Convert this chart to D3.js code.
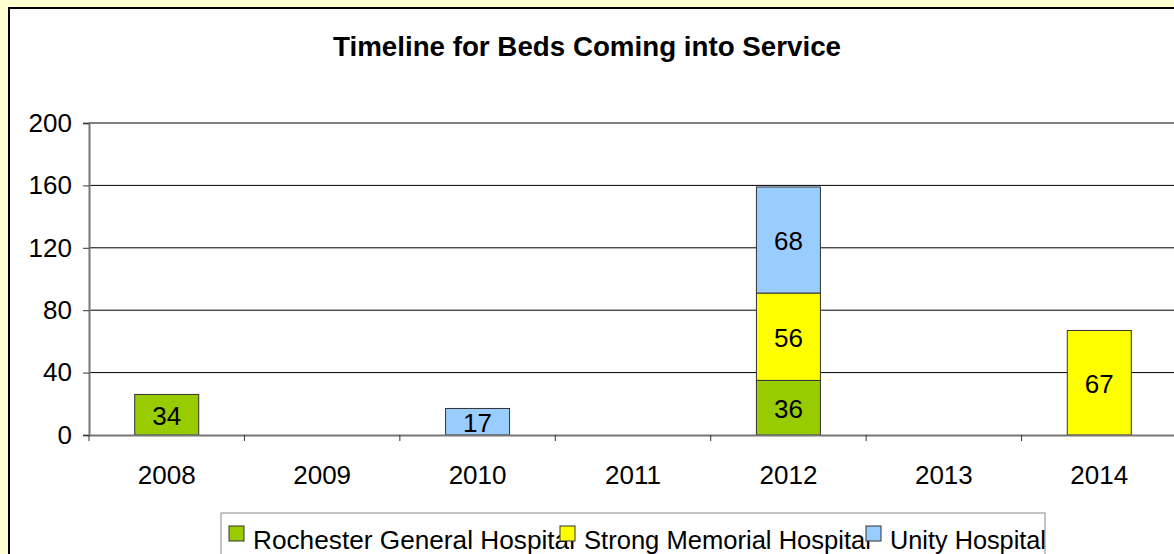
<!DOCTYPE html>
<html>
<head>
    <title>Timeline for Beds Coming into Service</title>
    <style>
        body { margin: 0; background: #ffffd0; overflow: hidden; }
        text { font-family: Arial, "Liberation Sans", sans-serif; }
    </style>
</head>
<body>
    <svg id="chart" width="1174" height="554"></svg>

    <script src="https://d3js.org/d3.v7.min.js"></script>
    <script>
        // categories and series
        const years = ['2008', '2009', '2010', '2011', '2012', '2013', '2014'];
        const hospitals = ['Rochester General Hospital', 'Strong Memorial Hospital', 'Unity Hospital'];
        const colors = ['#99cc00', '#ffff00', '#99ccff'];

        // bar heights as drawn
        const rochester = [26, 0, 0, 0, 35, 0, 0];
        const strong = [0, 0, 0, 0, 56, 0, 67];
        const unity = [0, 0, 17, 0, 68, 0, 0];

        // data labels as printed on the bars
        const rochesterLabels = ['34', '', '', '', '36', '', ''];
        const strongLabels = ['', '', '', '', '56', '', '67'];
        const unityLabels = ['', '', '17', '', '68', '', ''];

        const yTicks = [0, 40, 80, 120, 160, 200];

        const seriesValues = [rochester, strong, unity];
        const seriesLabels = [rochesterLabels, strongLabels, unityLabels];

        const svg = d3.select('#chart');

        // chart frame
        svg.append('rect')
            .attr('x', 9).attr('y', 8)
            .attr('width', 1200).attr('height', 600)
            .attr('fill', '#fff')
            .attr('stroke', '#000')
            .attr('stroke-width', 2);

        svg.append('text')
            .attr('x', 587).attr('y', 56)
            .attr('text-anchor', 'middle')
            .attr('font-size', 27)
            .attr('font-weight', 'bold')
            .attr('textLength', 508)
            .attr('lengthAdjust', 'spacingAndGlyphs')
            .text('Timeline for Beds Coming into Service');

        const x = d3.scaleBand()
            .domain(years)
            .range([89, 1177]);

        const y = d3.scaleLinear()
            .domain([0, 200])
            .range([435, 123]);

        // gridlines
        svg.append('g')
            .selectAll('line')
            .data(yTicks.filter(d => d > 0))
            .enter().append('line')
            .attr('x1', 89).attr('x2', 1177)
            .attr('y1', d => y(d)).attr('y2', d => y(d))
            .attr('stroke', '#000')
            .attr('stroke-width', 1);

        // stacked bars
        const stackData = years.map((yr, i) => {
            const row = { year: yr };
            hospitals.forEach((h, k) => { row[h] = seriesValues[k][i]; });
            return row;
        });
        const stacked = d3.stack().keys(hospitals)(stackData);
        const barW = 64;

        stacked.forEach((layer, k) => {
            const g = svg.append('g');
            layer.forEach((seg, i) => {
                if (seg[1] - seg[0] <= 0) return;
                const cx = x(years[i]) + x.bandwidth() / 2;
                g.append('rect')
                    .attr('x', cx - barW / 2)
                    .attr('y', y(seg[1]))
                    .attr('width', barW)
                    .attr('height', y(seg[0]) - y(seg[1]))
                    .attr('fill', colors[k])
                    .attr('stroke', '#333')
                    .attr('stroke-width', 1);
                g.append('text')
                    .attr('x', cx)
                    .attr('y', (y(seg[0]) + y(seg[1])) / 2 + 10)
                    .attr('text-anchor', 'middle')
                    .attr('font-size', 26)
                    .text(seriesLabels[k][i]);
            });
        });

        // axes
        const yAxis = svg.append('g')
            .attr('transform', 'translate(89,0)')
            .call(d3.axisLeft(y).tickValues(yTicks).tickSize(6).tickPadding(11));
        yAxis.select('.domain').attr('stroke', '#777').attr('stroke-width', 2);
        yAxis.selectAll('.tick line').attr('stroke', '#333');
        yAxis.selectAll('.tick text')
            .attr('font-size', 26)
            .attr('font-family', 'Arial, "Liberation Sans", sans-serif')
            .attr('fill', '#000');

        const xAxis = svg.append('g')
            .attr('transform', 'translate(0,435)')
            .call(d3.axisBottom(x).tickSize(0).tickPadding(31));
        xAxis.select('.domain').attr('stroke', '#777').attr('stroke-width', 2);
        xAxis.selectAll('.tick text')
            .attr('font-size', 26)
            .attr('font-family', 'Arial, "Liberation Sans", sans-serif')
            .attr('fill', '#000');

        // category boundary ticks
        svg.append('g')
            .selectAll('line')
            .data(years.concat(['end']))
            .enter().append('line')
            .attr('x1', (d, i) => 89 + i * x.step())
            .attr('x2', (d, i) => 89 + i * x.step())
            .attr('y1', 435).attr('y2', 441)
            .attr('stroke', '#333');

        // legend
        svg.append('rect')
            .attr('x', 221).attr('y', 513)
            .attr('width', 824).attr('height', 50)
            .attr('fill', '#fff')
            .attr('stroke', '#888')
            .attr('stroke-width', 1);

        const legendX = [229, 560, 866];
        const legendW = [322, 287, 156];
        hospitals.forEach((h, k) => {
            svg.append('rect')
                .attr('x', legendX[k]).attr('y', 526)
                .attr('width', 15).attr('height', 15)
                .attr('fill', colors[k])
                .attr('stroke', '#333');
            svg.append('text')
                .attr('x', legendX[k] + 24).attr('y', 549)
                .attr('font-size', 26)
                .attr('textLength', legendW[k])
                .attr('lengthAdjust', 'spacingAndGlyphs')
                .text(h);
        });
    </script>
</body>
</html>
